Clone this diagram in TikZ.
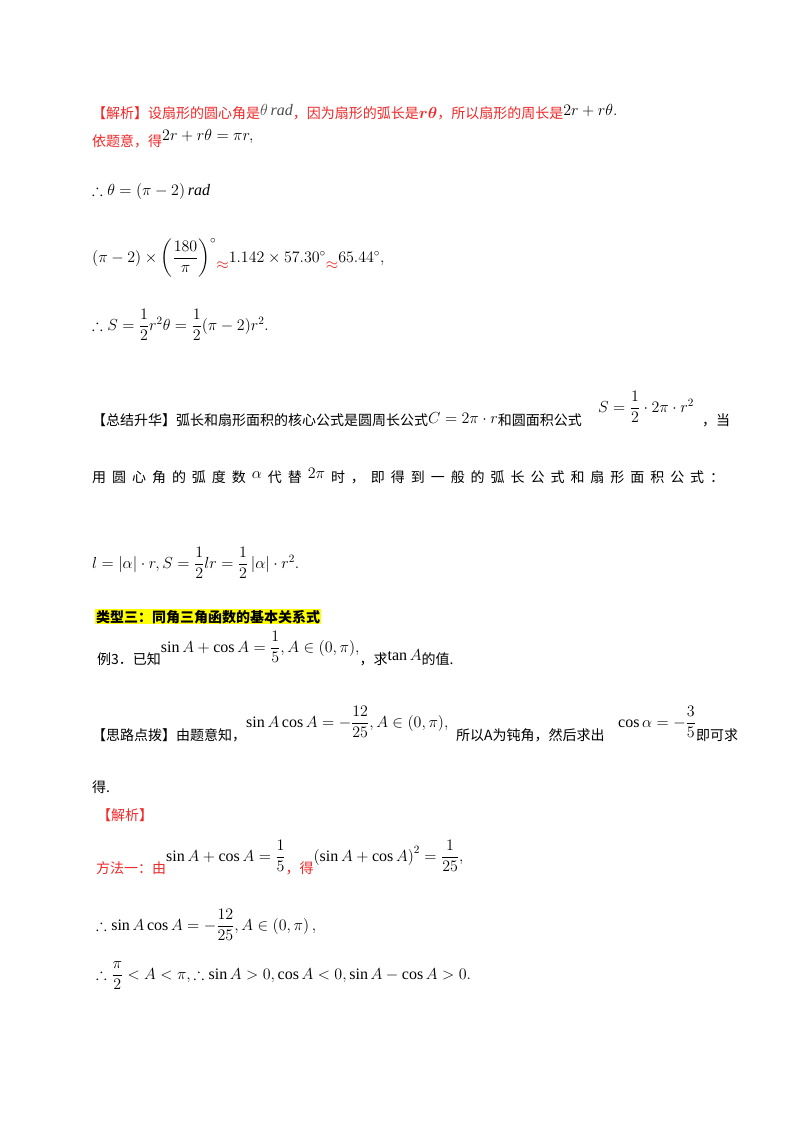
\RequirePackage{fix-cm}
\documentclass[tikz,border=0pt]{standalone}
\usepackage{amsmath,amssymb}
\usepackage{fontspec}
\setmainfont{Liberation Serif}
\newfontfamily\cjk{Noto Sans CJK SC}
\definecolor{rd}{RGB}{240,40,40}
\definecolor{hl}{RGB}{255,255,0}
\newcommand{\mm}[1]{{\fontsize{16}{19}\selectfont$#1$}}
\begin{document}
\begin{tikzpicture}[x=1pt,y=-1pt,
  t/.style={anchor=base west,inner sep=0pt,font=\fontsize{14}{16}\selectfont},
  r/.style={t,text=rd}]
\useasboundingbox[fill=white] (0,0) rectangle (800,1132);
\node[r] (l1) at (92,118) {{\cjk 【解析】设扇形的圆心角是}\raisebox{3pt}{\textcolor{black!70}{\mm{\theta\,\mathit{rad}}}}{\cjk ，因为扇形的弧长是}\mm{\boldsymbol{r\theta}}{\cjk ，所以扇形的周长是}\raisebox{3pt}{\textcolor{black}{\mm{2r+r\theta.}}}};
\node[r] (l2) at (92,146) {{\cjk 依题意，得}\raisebox{6pt}{\textcolor{black}{\mm{2r+r\theta=\pi r,}}}};
\node[t] (l3) at (92,195) {\mm{\therefore\theta=\left(\pi-2\right)\mathit{rad}}};
\node[t] (l4) at (92,262) {\mm{(\pi-2)\times\left(\dfrac{180}{\pi}\right)^{\circ}}\raisebox{-7pt}{\textcolor{rd}{\mm{\approx}}}\mm{1.142\times57.30^\circ}\raisebox{-7pt}{\textcolor{rd}{\mm{\approx}}}\mm{65.44^\circ,}};
\node[t] (l5) at (92,330) {\mm{\therefore S=\dfrac12r^2\theta=\dfrac12(\pi-2)r^2.}};
\node[t] (l6) at (92,425) {{\cjk 【总结升华】弧长和扇形面积的核心公式是圆周长公式}\raisebox{2pt}{\mm{C=2\pi\cdot r}}{\cjk 和圆面积公式}};
\node[t] (l6b) at (598,412) {\mm{S=\dfrac12\cdot2\pi\cdot r^2}};
\node[t] (l6c) at (702,425) {\cjk ，当};
\node[t,text width=632pt,align=justify] (l7) at (92,482) {\cjk 用\hfill 圆\hfill 心\hfill 角\hfill 的\hfill 弧\hfill 度\hfill 数\hfill \raisebox{4pt}{\mm{\alpha}}\hfill 代\hfill 替\hfill \raisebox{4pt}{\mm{2\pi}}\hfill 时\hfill ，\hfill 即\hfill 得\hfill 到\hfill 一\hfill 般\hfill 的\hfill 弧\hfill 长\hfill 公\hfill 式\hfill 和\hfill 扇\hfill 形\hfill 面\hfill 积\hfill 公\hfill 式\hfill ：};
\node[t] (l8) at (92,568) {\mm{l=\left|\alpha\right|\cdot r,S=\dfrac12lr=\dfrac12\left|\alpha\right|\cdot r^2.}};
\node[t,fill=hl,inner sep=1pt] (l9) at (95,622) {\cjk\bfseries 类型三：同角三角函数的基本关系式};
\node[t] (l10) at (97,664) {{\cjk 例3．已知}\raisebox{12pt}{\mm{\sin A+\cos A=\dfrac15,A\in(0,\pi),}}{\cjk ，求}\raisebox{4pt}{\mm{\tan A}}{\cjk 的值.}};
\node[t] (l11) at (92,740) {{\cjk 【思路点拨】由题意知，}\raisebox{13pt}{\mm{\sin A\cos A=-\dfrac{12}{25},A\in(0,\pi),}}};
\node[t] (l11b) at (456,740) {\cjk 所以A为钝角，然后求出};
\node[t] (l11c) at (618,740) {\raisebox{13pt}{\mm{\cos\alpha=-\dfrac35}}{\cjk 即可求}};
\node[t] (l12) at (92,792) {\cjk 得.};
\node[r] (l13) at (97,820) {\cjk 【解析】};
\node[r] (l14) at (96,873) {{\cjk 方法一：由}\raisebox{12pt}{\textcolor{black}{\mm{\sin A+\cos A=\dfrac15}}}{\cjk ，得}\raisebox{12pt}{\textcolor{black}{\mm{\left(\sin A+\cos A\right)^2=\dfrac1{25},}}}};
\node[t] (l15) at (96,930) {\mm{\therefore\sin A\cos A=-\dfrac{12}{25},A\in\left(0,\pi\right),}};
\node[t] (l16) at (96,979) {\mm{\therefore\dfrac{\pi}{2}<A<\pi,\therefore\sin A>0,\cos A<0,\sin A-\cos A>0.}};
\end{tikzpicture}
\end{document}
